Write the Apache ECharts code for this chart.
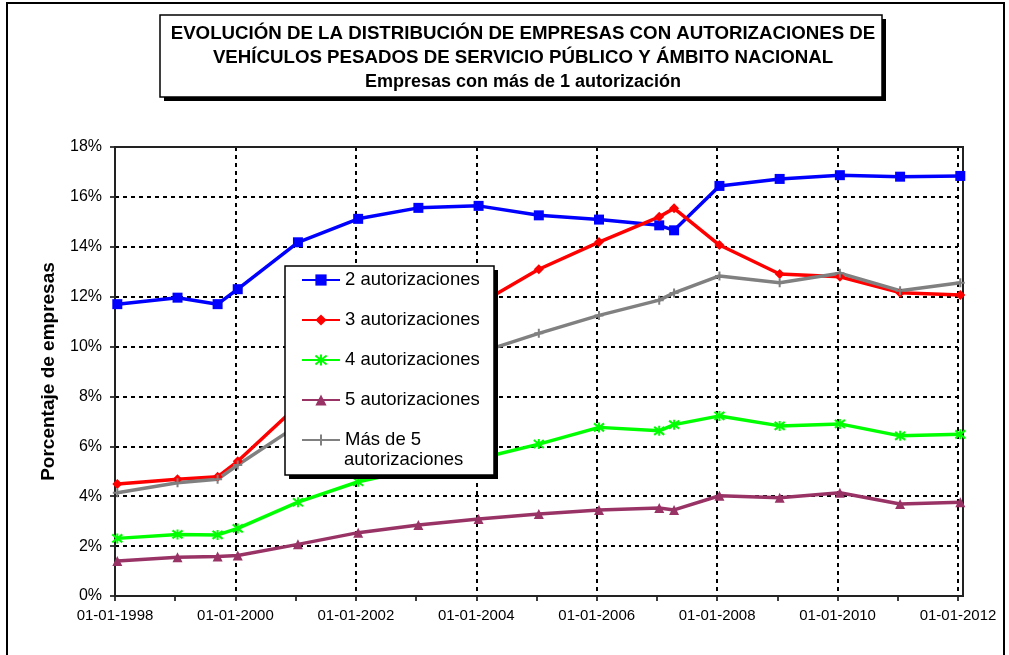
<!DOCTYPE html>
<html><head><meta charset="utf-8">
<script src="https://cdn.jsdelivr.net/npm/echarts@6/dist/echarts.min.js"></script>
<style>html,body{margin:0;padding:0;background:#fff}#c{width:1009px;height:655px}</style>
</head><body><div id="c"></div>
<script>
const FONT = '"Liberation Sans", Arial, Helvetica, sans-serif';
const TITLE_LINES = [
  'EVOLUCIÓN DE LA DISTRIBUCIÓN DE EMPRESAS CON AUTORIZACIONES DE',
  'VEHÍCULOS PESADOS DE SERVICIO PÚBLICO Y ÁMBITO NACIONAL'
];
const SUBTITLE = 'Empresas con más de 1 autorización';
const Y_NAME = 'Porcentaje de empresas';

const DATES = ['15-01-1998','15-01-1999','15-09-1999','15-01-2000','15-01-2001','15-01-2002',
  '15-01-2003','15-01-2004','15-01-2005','15-01-2006','15-01-2007','15-04-2007',
  '15-01-2008','15-01-2009','15-01-2010','15-01-2011','15-01-2012'];

const NAMES = ['2 autorizaciones','3 autorizaciones','4 autorizaciones','5 autorizaciones','Más de 5 autorizaciones'];
const LEGEND_LABELS = ['2 autorizaciones','3 autorizaciones','4 autorizaciones','5 autorizaciones','Más de 5'];
const LEGEND_SECOND_LINE = 'autorizaciones';

const S2 = [11.70,11.96,11.70,12.30,14.18,15.12,15.56,15.64,15.26,15.09,14.86,14.66,16.44,16.72,16.87,16.81,16.84];
const S3 = [4.49,4.68,4.78,5.40,7.65,9.20,10.50,11.70,13.10,14.19,15.20,15.54,14.07,12.91,12.80,12.16,12.07];
const S4 = [2.31,2.47,2.45,2.71,3.76,4.58,5.10,5.50,6.09,6.76,6.62,6.87,7.22,6.82,6.90,6.42,6.48];
const S5 = [1.40,1.55,1.58,1.62,2.07,2.54,2.85,3.09,3.29,3.45,3.53,3.45,4.02,3.94,4.14,3.69,3.76];
const S6 = [4.14,4.54,4.68,5.25,6.85,7.90,8.90,9.75,10.53,11.25,11.86,12.15,12.83,12.56,12.94,12.24,12.56];

const X_TICK_LABELS = ['01-01-1998','01-01-2000','01-01-2002','01-01-2004','01-01-2006','01-01-2008','01-01-2010','01-01-2012'];
const X_FIRST_YEAR = 1998, X_LAST_YEAR = 2012, X_STEP = 2;

function toYear(s) {
  const [d, m, y] = s.split('-').map(Number);
  const t = Date.UTC(y, m - 1, d), t0 = Date.UTC(y, 0, 1), t1 = Date.UTC(y + 1, 0, 1);
  return y + (t - t0) / (t1 - t0);
}
const pts = arr => DATES.map((d, i) => [toYear(d), arr[i]]);

const COLORS = ['#0000FF', '#FF0000', '#00FF00', '#993366', '#808080'];
const SYMBOLS = ['rect', 'diamond', 'path://M5,0L5,10M1,1L9,9M1,9L9,1', 'triangle', 'path://M5,0L5,10M0,5L10,5'];
const SIZES = [10, 10, 10, 10, 9];
const VALUES = [S2, S3, S4, S5, S6];

const chart = echarts.init(document.getElementById('c'), null, {renderer: 'canvas'});
chart.setOption({
  animation: false,
  backgroundColor: '#fff',
  textStyle: {fontFamily: FONT},
  title: {
    text: TITLE_LINES.join('\n'),
    subtext: SUBTITLE,
    left: 523, top: 22, textAlign: 'center', padding: 0, itemGap: 0,
    textStyle: {fontSize: 18.7, fontWeight: 'bold', color: '#000', lineHeight: 24, fontFamily: FONT},
    subtextStyle: {fontSize: 18, fontWeight: 'bold', color: '#000', lineHeight: 24, fontFamily: FONT}
  },
  grid: {left: 115, top: 147, right: 51, bottom: 59, containLabel: false},
  legend: {
    orient: 'vertical', left: 301, top: 270, padding: 0, itemGap: 20,
    itemWidth: 38, itemHeight: 14, z: 4,
    textStyle: {fontSize: 18.5, color: '#000', lineHeight: 20, fontFamily: FONT},
    formatter: n => LEGEND_LABELS[NAMES.indexOf(n)],
    data: NAMES
  },
  xAxis: {
    type: 'value', min: X_FIRST_YEAR, max: X_LAST_YEAR, interval: X_STEP,
    axisLine: {lineStyle: {color: '#000', width: 2}},
    axisTick: {length: 5, lineStyle: {color: '#000', width: 1.5}},
    minorTick: {show: true, splitNumber: 2, length: 5, lineStyle: {color: '#000', width: 1.5}},
    axisLabel: {
      formatter: v => X_TICK_LABELS[Math.round((v - X_FIRST_YEAR) / X_STEP)] || '',
      fontSize: 15, color: '#000', margin: 12, fontFamily: FONT
    },
    splitLine: {show: true, showMinLine: false, lineStyle: {color: '#000', width: 2, type: [4, 4]}}
  },
  yAxis: {
    type: 'value', min: 0, max: 18, interval: 2,
    name: Y_NAME, nameLocation: 'middle', nameGap: 57,
    nameTextStyle: {fontSize: 19, fontWeight: 'bold', color: '#000', fontFamily: FONT},
    axisLine: {show: true, lineStyle: {color: '#000', width: 2}},
    axisTick: {show: true, length: 5, lineStyle: {color: '#000', width: 1.5}},
    axisLabel: {formatter: '{value}%', fontSize: 16, color: '#000', margin: 13, fontFamily: FONT},
    splitLine: {show: true, showMinLine: false, showMaxLine: false, lineStyle: {color: '#000', width: 2, type: [4, 4]}}
  },
  graphic: [
    {type: 'rect', z: 0, silent: true, shape: {x: 7, y: 3, width: 997, height: 660}, style: {fill: 'none', stroke: '#000', lineWidth: 2}},
    {type: 'rect', z: 0, silent: true, shape: {x: 164, y: 19, width: 722, height: 82}, style: {fill: '#000'}},
    {type: 'rect', z: 0, silent: true, shape: {x: 160, y: 15, width: 722, height: 82}, style: {fill: '#fff', stroke: '#000', lineWidth: 1.5}},
    {type: 'rect', z: 1, silent: true, shape: {x: 115, y: 147, width: 848, height: 449}, style: {fill: 'none', stroke: '#222', lineWidth: 2}},
    {type: 'rect', z: 3, silent: true, shape: {x: 289, y: 270, width: 209, height: 209}, style: {fill: '#000'}},
    {type: 'rect', z: 3, silent: true, shape: {x: 285, y: 266, width: 209, height: 209}, style: {fill: '#fff', stroke: '#000', lineWidth: 1.5}},
    {type: 'text', z: 5, silent: true, x: 344, y: 460, style: {text: LEGEND_SECOND_LINE, fontSize: 18.5, fontFamily: FONT, fill: '#000', verticalAlign: 'middle'}}
  ],
  series: NAMES.map((n, i) => ({
    name: n, type: 'line', data: pts(VALUES[i]), clip: false, z: 2,
    symbol: SYMBOLS[i], symbolSize: SIZES[i], showAllSymbol: true,
    lineStyle: {color: COLORS[i], width: 3.5},
    itemStyle: {color: COLORS[i], borderColor: COLORS[i], borderWidth: (i === 2 || i === 4) ? 2 : 0},
    emphasis: {disabled: true}
  }))
});
</script></body></html>
